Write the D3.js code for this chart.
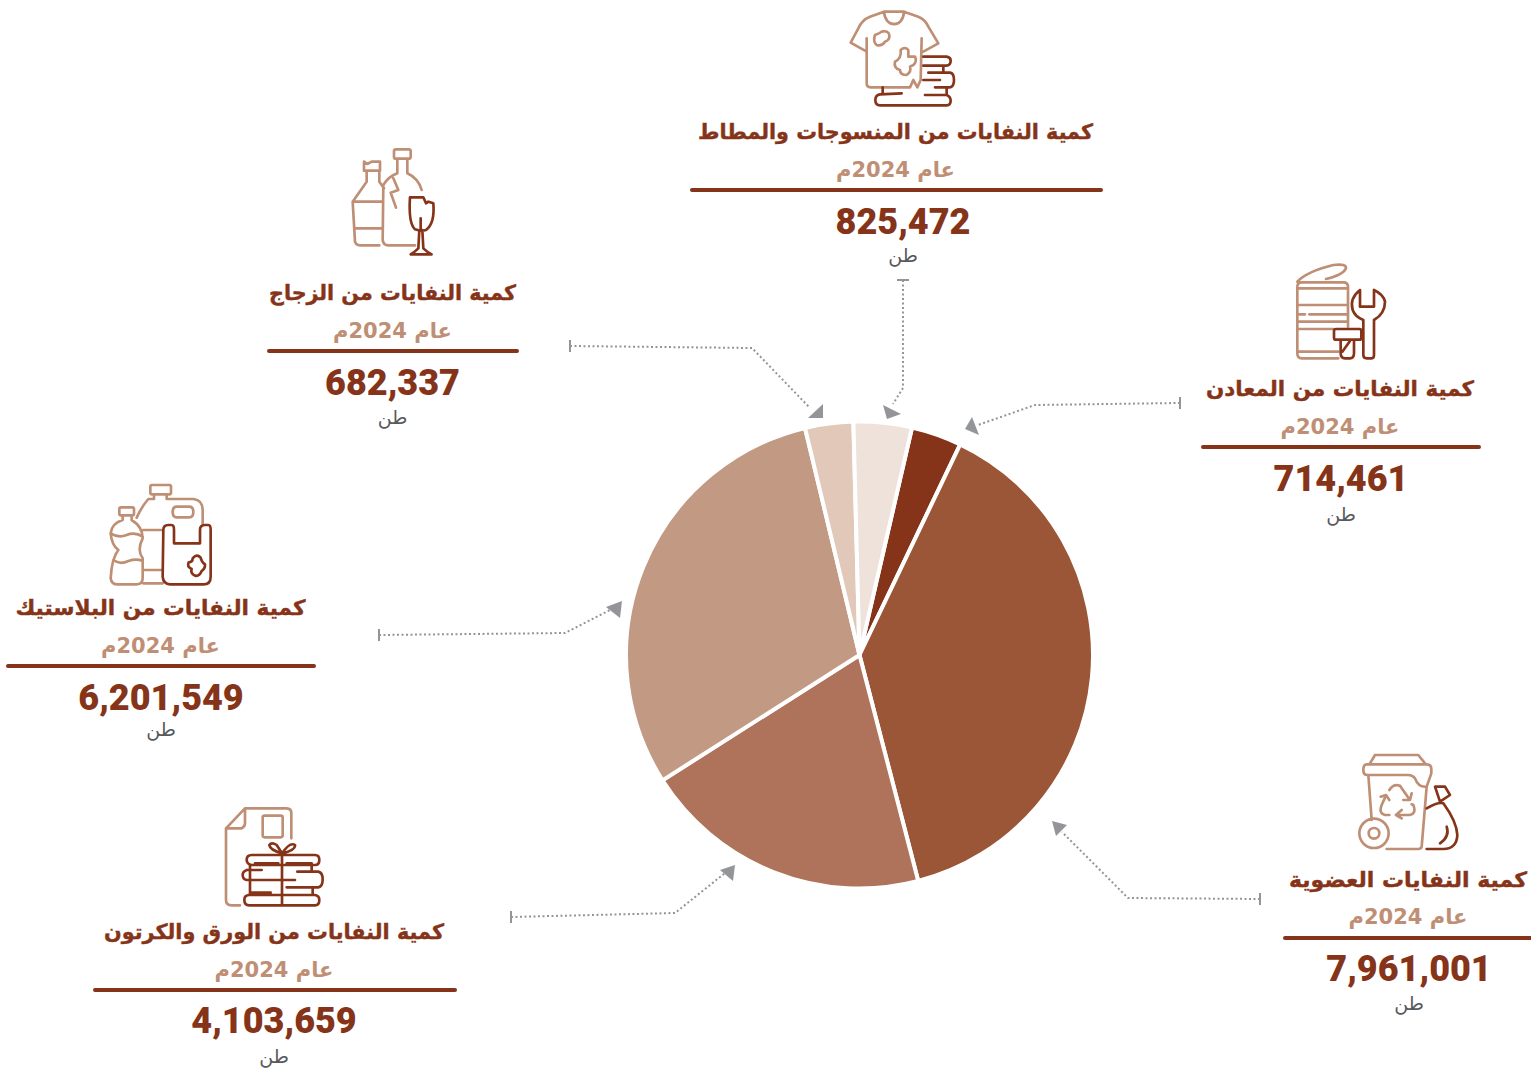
<!DOCTYPE html>
<html lang="ar"><head><meta charset="utf-8">
<script src="https://cdnjs.cloudflare.com/ajax/libs/d3/7.8.5/d3.min.js"></script>
<style>html,body{margin:0;background:#fff;overflow:hidden}svg{display:block}</style></head>
<body><svg id="c" width="1531" height="1071"></svg>
<script>
// ---- data ----
const categories = ["كمية النفايات من المعادن","كمية النفايات العضوية","كمية النفايات من الورق والكرتون","كمية النفايات من البلاستيك","كمية النفايات من الزجاج","كمية النفايات من المنسوجات والمطاط"];
const values = [714461,7961001,4103659,6201549,682337,825472];
const colors = ["#853419","#9a5636","#ae735a","#c29a83","#e2c8b9","#eee2da"];
const yearLabel = "عام 2024م";
const unitLabel = "طن";

// ---- layout of the annotation blocks (order as categories) ----
const blocks = [
 {rule:[1201,1481],ry:447,tx:1340,tw:268,vx:1341,ty:389,yy:427,vy:478,uy:514.5},
 {rule:[1283,1533],ry:938,tx:1408,tw:238,vx:1409,ty:880,yy:917,vy:968,uy:1003.5},
 {rule:[93,457],ry:990,tx:274,tw:340,vx:274,ty:932,yy:970,vy:1020,uy:1056.5},
 {rule:[6,316],ry:666,tx:160.5,tw:290,vx:161,ty:608,yy:646,vy:697,uy:729},
 {rule:[267,519],ry:351,tx:392.5,tw:247,vx:392.5,ty:293,yy:331,vy:382,uy:417.5},
 {rule:[690,1103],ry:190,tx:895.5,tw:395,vx:903,ty:132,yy:170,vy:221,uy:255.5}
];
const leaders = [
 {pts:[[1180,403],[1035,405],[978,425]],tick:"v",tri:[[965,429],[972,417],[979,435]]},
 {pts:[[1260,899],[1128,898],[1062,832]],tick:"v",tri:[[1052,821],[1067,825],[1056,836]]},
 {pts:[[511,917],[675,913],[725,873]],tick:"v",tri:[[735,865],[720,870],[733,881]]},
 {pts:[[379,635],[565,633],[610,610]],tick:"v",tri:[[622,601],[606,607],[620,618]]},
 {pts:[[570,346],[752,348],[810,408]],tick:"v",tri:[[823,418],[808,418],[823,404]]},
 {pts:[[903,280],[903,388],[893,404]],tick:"h",tri:[[887,419],[883,405],[901,414]]}
];
const L="#bf8f75",D="#853419";
const icons = [
 {o:[1190,255],light:"M322 80Q350 50 430 30Q470 25 468 40Q460 60 408 72M445 310L335 310Q322 310 322 295L322 95Q322 82 335 82L460 82Q474 82 474 95L474 215M322 100L474 100M322 150L474 150M328 178L345 178M358 178L474 178M322 200L474 200M322 222L430 222M322 290L445 290",
  dark:"M510 105Q478 130 488 165Q495 185 520 195L520 300Q520 310 530 310L545 310Q552 310 552 300L552 195Q585 175 585 140Q580 118 552 105L552 155L510 155ZM438 222L508 222Q514 222 514 228L514 248Q514 254 508 254L438 254Q432 254 432 248L432 228Q432 222 438 222ZM452 254L452 295Q452 310 465 310L480 310Q492 310 492 295L492 254M457 290L480 258"},
 {o:[1270,745],light:"M300 55L315 30L445 30L465 55M290 58L470 58Q484 58 484 72L484 85L470 125Q445 128 435 100Q428 90 415 90L292 90Q280 90 280 75Q280 58 290 58ZM295 90L305 225M470 125L455 305Q453 312 445 312L350 312M356 265A44 44 0 1 1 268 265A44 44 0 1 1 356 265ZM328 265A16 16 0 1 1 296 265A16 16 0 1 1 328 265ZM358 210L345 210Q325 205 335 180L345 158M332 155L348 150L358 165M358 135Q370 115 390 122L415 158M400 165L420 165L425 145M378 210L420 210Q440 205 430 180L425 178M395 195L378 210L395 220",
  dark:"M495 125L525 125L540 150L510 170ZM470 190Q505 170 520 175Q560 230 562 270Q560 312 520 312L470 312M530 245Q540 275 510 295"},
 {o:[90,800],light:"M408 85L465 25L590 25Q604 25 604 40L604 115M408 85L408 300Q408 316 425 316L450 316M408 85L455 85Q465 80 465 70L465 25M524 47L572 47Q578 47 578 53L578 106Q578 112 572 112L524 112Q518 112 518 106L518 53Q518 47 524 47Z",
  dark:"M576 160Q540 150 538 135Q545 125 560 135L576 160Q600 125 615 135Q618 150 576 160M576 160L576 316M485 165L675 165Q688 165 688 180Q688 195 675 195L485 195Q470 192 470 180Q470 165 485 165M495 190L565 190M590 190L665 190M622 215L685 215Q698 218 698 238Q698 260 685 262L590 262M470 210Q458 215 458 225Q458 238 470 240L615 240M470 210L515 210M480 195L480 285M665 195L665 215M668 262L668 285M475 285L675 285Q688 287 688 300Q688 316 675 316L478 316Q463 316 463 300Q463 285 478 285M480 278L542 278M610 285L665 285"},
 {o:[0,475],light:"M363 97L397 97Q402 97 402 102L402 116Q402 121 397 121L363 121Q358 121 358 116L358 102Q358 97 363 97ZM368 122L368 135Q335 145 332 175Q335 210 355 225Q335 250 332 310Q335 328 350 328L410 328Q428 328 428 310L428 250Q410 225 428 190Q428 155 395 135L395 122M332 175Q355 190 380 180Q405 170 428 185M340 255Q360 270 385 258Q410 250 428 258M456 30L508 30Q513 30 513 35L513 53Q513 58 508 58L456 58Q451 58 451 53L451 35Q451 30 456 30ZM462 58L462 72L445 72Q425 95 410 128M500 58L500 72L580 72Q608 75 608 105L608 148M530 95L568 95Q580 95 580 111Q580 127 568 127L530 127Q518 127 518 111Q518 95 530 95ZM430 165L485 165M430 285L485 285M430 325L488 325",
  dark:"M490 165Q490 150 505 150L515 150Q522 150 522 165L522 205L600 205L600 165Q600 150 615 150L625 150Q632 150 632 165L632 305Q632 328 610 328L510 328Q490 328 488 305ZM578 250Q590 235 602 248Q605 262 615 268Q616 280 605 288Q598 305 585 302Q570 295 575 282Q560 275 566 262Q578 262 578 250Z"},
 {o:[260,140],light:"M312 65L322 72L335 65L360 65L360 92L312 92ZM320 92L320 125L278 185L285 305Q288 316 300 316L358 316M358 92L358 125L372 145M278 185L368 185M285 265L368 265M408 28L446 28Q452 28 452 34L452 50Q452 56 446 56L408 56Q402 56 402 50L402 34Q402 28 408 28ZM412 56L412 100Q385 110 370 135L368 300Q370 316 385 316L465 316M442 56L442 100Q475 115 485 150M400 115L415 150L392 158L408 203",
  dark:"M450 172L490 172L498 190L505 185L520 190Q525 250 498 270Q483 275 465 268Q445 250 450 172ZM482 235L482 270M478 270L475 325Q465 335 452 343L515 343Q500 335 490 325L487 270"},
 {o:[680,0],light:"M612 35C615 85 670 85 672 35M612 35L672 35M612 35L570 50Q545 60 535 85L512 128L560 155M672 35L715 50Q735 58 745 80L775 130L730 155M560 115L560 250Q560 262 572 262L690 262L700 240L712 262L722 240L725 115M585 105Q600 100 605 95Q625 90 628 105Q630 120 615 125Q605 140 590 135Q578 125 585 105ZM662 150Q675 138 685 150L685 170L705 170Q712 185 700 195L690 200Q695 215 680 225Q660 225 660 210Q640 205 645 185Q665 175 662 150Z",
  dark:"M730 170L800 170Q812 172 812 182Q812 195 800 197L730 197M790 197L790 217M745 218L810 218Q822 220 822 240Q822 260 810 262L765 262M730 240L780 240M800 262L800 285M735 285L800 285Q812 290 812 302Q812 315 800 316L600 316Q586 316 586 300Q586 285 600 283L665 280M608 262L608 280"}
];

// ---- drawing ----
const svg = d3.select("#c");
const pie = d3.pie().sort(null).startAngle(13*Math.PI/180).endAngle((360+13)*Math.PI/180);
const arc = d3.arc().innerRadius(0).outerRadius(233.5);
const arcs = pie(values);
svg.append("g").attr("transform","translate(859.5,655)")
  .selectAll("path").data(arcs).join("path")
  .attr("d",arc).attr("fill",(d,i)=>colors[i]).attr("stroke","#fff").attr("stroke-width",4).attr("stroke-linejoin","miter");

const ARFONT = "'DejaVu Sans',sans-serif";
const fmt = d3.format(",");
const g = svg.selectAll("g.block").data(categories).join("g").attr("class","block");
g.append("text").attr("x",(d,i)=>blocks[i].tx).attr("y",(d,i)=>blocks[i].ty).attr("dy","0.35em")
  .attr("text-anchor","middle").attr("direction","rtl").attr("font-family",ARFONT).attr("font-weight",700)
  .attr("textLength",(d,i)=>blocks[i].tw).attr("lengthAdjust","spacingAndGlyphs")
  .attr("font-size",21).attr("stroke",D).attr("stroke-width",0.4).attr("fill",D).text(d=>d);
g.append("text").attr("x",(d,i)=>blocks[i].tx).attr("y",(d,i)=>blocks[i].yy).attr("dy","0.35em")
  .attr("text-anchor","middle").attr("direction","rtl").attr("font-family",ARFONT).attr("font-weight",700)
  .attr("font-size",21).attr("fill",L).text(yearLabel);
g.append("line").attr("x1",(d,i)=>blocks[i].rule[0]+2).attr("x2",(d,i)=>blocks[i].rule[1]-2)
  .attr("y1",(d,i)=>blocks[i].ry).attr("y2",(d,i)=>blocks[i].ry)
  .attr("stroke",D).attr("stroke-width",4).attr("stroke-linecap","round");
g.append("text").attr("x",(d,i)=>blocks[i].vx).attr("y",(d,i)=>blocks[i].vy).attr("dy","0.35em")
  .attr("text-anchor","middle").attr("font-family","Roboto,sans-serif").attr("font-weight",900)
  .attr("font-size",36).attr("fill",D).text((d,i)=>fmt(values[i]));
g.append("text").attr("x",(d,i)=>blocks[i].vx).attr("y",(d,i)=>blocks[i].uy).attr("dy","0.35em")
  .attr("text-anchor","middle").attr("direction","rtl").attr("font-family",ARFONT)
  .attr("font-size",19).attr("fill","#58595b").text(unitLabel);

const lg = svg.append("g");
const line = d3.line();
leaders.forEach(l=>{
  lg.append("path").attr("d",line(l.pts)).attr("fill","none").attr("stroke","#939598").attr("stroke-width",2).attr("stroke-dasharray","2 2.5");
  const [x,y]=l.pts[0];
  const t = l.tick==="v"?[[x,y-6],[x,y+6]]:[[x-6,y],[x+6,y]];
  lg.append("path").attr("d",line(t)).attr("stroke","#939598").attr("stroke-width",2);
  lg.append("path").attr("d",line(l.tri)+"Z").attr("fill","#939598");
});

const ic = svg.append("g").attr("fill","none").attr("stroke-linecap","round").attr("stroke-linejoin","round");
icons.forEach(k=>{
  const t = ic.append("g").attr("transform",`translate(${k.o[0]},${k.o[1]}) scale(${1/3})`);
  t.append("path").attr("d",k.light).attr("stroke",L).attr("stroke-width",8);
  t.append("path").attr("d",k.dark).attr("stroke",D).attr("stroke-width",8);
});
</script></body></html>
